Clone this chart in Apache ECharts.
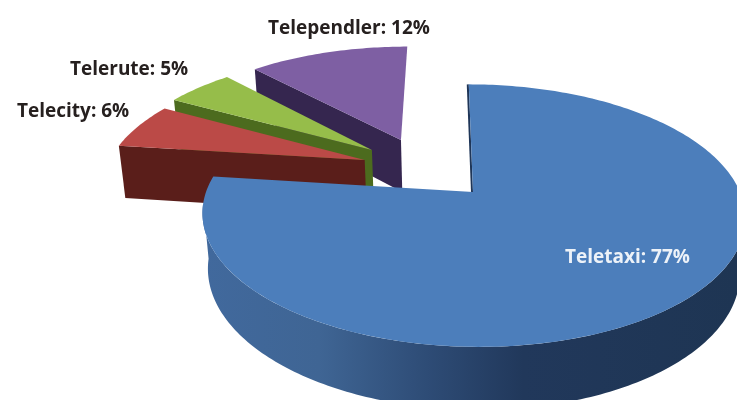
<!DOCTYPE html>
<html>
<head>
<meta charset="utf-8">
<script src="https://cdn.jsdelivr.net/npm/echarts@6/dist/echarts.min.js"></script>
<style>
  html, body { margin: 0; padding: 0; background: #fff; }
  /* the source picture is a soft scan */
  #main { width: 737px; height: 400px; filter: blur(0.6px); }
</style>
</head>
<body>
<div id="main"></div>
<script>
var categories = ['Teletaxi', 'Telecity', 'Telerute', 'Telependler'];
var shares = [77, 6, 5, 12];

// look of each slice, same order as categories
var topColors = ['#4c7ebb', '#bb4a47', '#96bd4a', '#7e5fa3'];
var sideColors = ['#1f3658', '#5a1e1a', '#4c6b1e', '#35264f'];
// how far the slice is pulled out, in units of the pie radius
var explode = [[0, 0], [-0.42, -0.264], [-0.396, -0.352], [-0.283, -0.442]];
var labelPos = [[565, 258], [17, 112], [70, 70], [268, 29]];
var labelColors = ['#edf2f8', '#26201f', '#26201f', '#26201f'];
var layers = [4, 3, 2, 1];

// perspective camera for the tilted disc
var apexX = 473, apexY = 192;
var scaleX = 267, scaleY = 127, pull = 0.18, skew = 5;
var depth = 56, depthPull = 0.02;

function project(x, y, z) {
  var den = 1 - pull * y + depthPull * z;
  return [apexX + (scaleX * x + skew * y) / den, apexY + (scaleY * y + depth * z) / den];
}

function arc(off, from, to, z) {
  var pts = [];
  var steps = Math.max(2, Math.round(Math.abs(to - from) / 1));
  for (var i = 0; i <= steps; i++) {
    var a = (from + (to - from) * i / steps) * Math.PI / 180;
    pts.push(project(off[0] + Math.sin(a), off[1] - Math.cos(a), z));
  }
  return pts;
}

var total = shares.reduce(function (s, v) { return s + v; }, 0);
var running = 0;
var seriesData = shares.map(function (v, i) {
  var row = [v, running, i];
  running += v;
  return row;
});

var blueSide = new echarts.graphic.LinearGradient(202, 0, 737, 0, [
  { offset: 0, color: '#41699d' },
  { offset: 0.22, color: '#3f6594' },
  { offset: 0.42, color: '#2e4c76' },
  { offset: 0.6, color: '#21385b' },
  { offset: 1, color: '#1e3553' }
], true);

function renderSlice(params, api) {
  var value = api.value(0), start = api.value(1) / total * 360, i = api.value(2);
  var end = start + value / total * 360;
  var off = explode[i], z2 = layers[i] * 10;
  var children = [];
  var apex = project(off[0], off[1], 0), apexLow = project(off[0], off[1], 1);

  if (i === 0) {
    // front wall of the big slice
    var front = arc(off, 95, 265, 0).concat(arc(off, 265, 95, 1));
    children.push({ type: 'polygon', z2: z2, shape: { points: front }, style: { fill: blueSide } });
    var cut = arc(off, start, start, 0)[0];
    children.push({
      type: 'line', z2: z2,
      shape: { x1: cut[0] - 1, y1: cut[1], x2: apex[0] - 1, y2: apex[1] },
      style: { stroke: sideColors[i], lineWidth: 2 }
    });
  } else {
    // cut face under the lower edge
    var rim = arc(off, start, start, 0)[0], rimLow = arc(off, start, start, 1)[0];
    children.push({
      type: 'polygon', z2: z2,
      shape: { points: [apex, rim, rimLow, apexLow] },
      style: { fill: sideColors[i] }
    });
  }

  var top = [apex].concat(arc(off, start, end, 0));
  children.push({ type: 'polygon', z2: z2 + 1, shape: { points: top }, style: { fill: topColors[i] } });
  children.push({
    type: 'text', z2: 100,
    style: {
      x: labelPos[i][0], y: labelPos[i][1],
      text: categories[i] + ': ' + value + '%',
      fill: labelColors[i],
      font: 'bold 19px "Open Sans"',
      textVerticalAlign: 'middle'
    }
  });
  return { type: 'group', children: children };
}

var chart = echarts.init(document.getElementById('main'));
chart.setOption({
  animation: false,
  backgroundColor: '#fff',
  series: [{
    type: 'custom',
    coordinateSystem: 'none',
    silent: true,
    renderItem: renderSlice,
    data: seriesData
  }]
});
</script>
</body>
</html>
